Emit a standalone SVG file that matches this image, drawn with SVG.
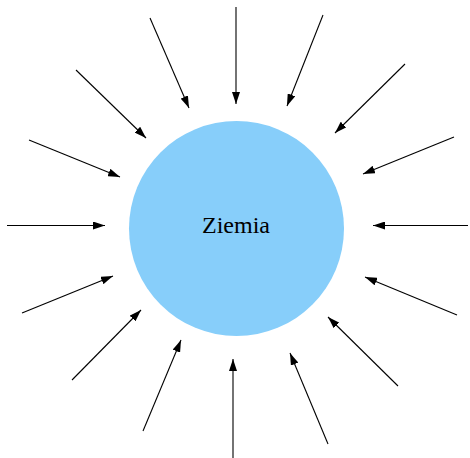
<svg xmlns="http://www.w3.org/2000/svg" width="470" height="458" viewBox="0 0 470 458">
<style>
.c line{stroke:#000;stroke-width:1.1;marker-end:url(#ah)}
.lbl{font-family:"Liberation Serif","Times New Roman",serif;font-size:24px;fill:#000}
</style>
<defs>
<marker id="ah" markerUnits="userSpaceOnUse" markerWidth="12" markerHeight="8" refX="12" refY="4" orient="auto">
<path d="M0,0 L12,4 L0,8 z" fill="#000"/>
</marker>
</defs>
<g id="ziemia">
<circle cx="236.5" cy="228.5" r="107.5" fill="#87cefa"/>
<text class="lbl" x="236" y="233" text-anchor="middle">Ziemia</text>
</g>
<g class="c" id="connectors">
<line x1="236" y1="7" x2="236" y2="104"/>
<line x1="323" y1="15" x2="287" y2="106"/>
<line x1="405" y1="64" x2="335" y2="133"/>
<line x1="454" y1="137" x2="363" y2="174"/>
<line x1="468" y1="225.5" x2="373" y2="225.5"/>
<line x1="457" y1="315" x2="365" y2="277"/>
<line x1="398" y1="386" x2="328" y2="317"/>
<line x1="328" y1="444" x2="290" y2="353"/>
<line x1="233" y1="458" x2="233" y2="359"/>
<line x1="143" y1="431" x2="181" y2="340"/>
<line x1="72" y1="380" x2="141" y2="310"/>
<line x1="22" y1="313" x2="113" y2="276"/>
<line x1="7" y1="225.5" x2="105" y2="225.5"/>
<line x1="29" y1="140" x2="120" y2="177"/>
<line x1="76" y1="70" x2="146" y2="138"/>
<line x1="150" y1="18" x2="189" y2="108"/>
</g>
</svg>
